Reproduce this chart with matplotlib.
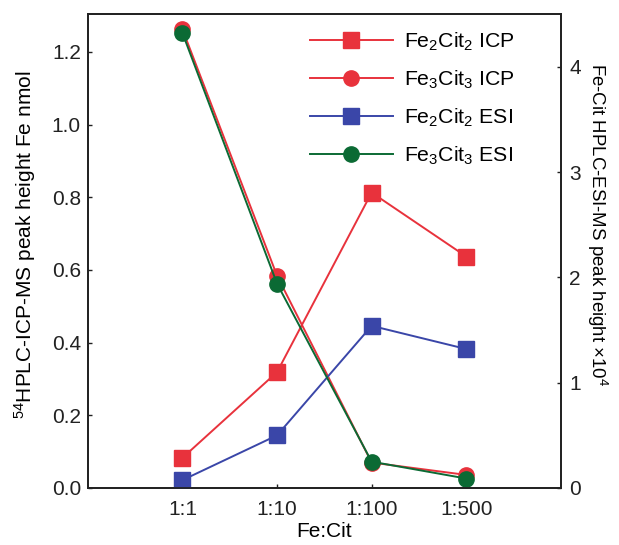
import matplotlib
matplotlib.use("Agg")
import matplotlib.pyplot as plt

plt.rcParams['font.family'] = ['Liberation Sans', 'DejaVu Sans']
plt.rcParams['mathtext.fontset'] = 'custom'
plt.rcParams['mathtext.rm'] = 'Liberation Sans'
plt.rcParams['mathtext.it'] = 'Liberation Sans:italic'
plt.rcParams['mathtext.bf'] = 'Liberation Sans:bold'

categories = ['1:1', '1:10', '1:100', '1:500']
fe2_icp = [0.083, 0.319, 0.813, 0.637]
fe3_icp = [1.262, 0.584, 0.070, 0.036]
fe2_esi = [0.075, 0.50, 1.54, 1.32]
fe3_esi = [4.32, 1.94, 0.25, 0.09]

red = '#e8323c'
blue = '#3a46a8'
green = '#0b6a34'

fig = plt.figure(figsize=(6.19, 5.45), dpi=100)
ax = fig.add_axes([0.142, 0.1046, 0.764, 0.8694])
ax2 = ax.twinx()

x = list(range(len(categories)))
ms = 11
lw = 1.4
l1, = ax.plot(x, fe2_icp, color=red, marker='s', ms=ms, lw=lw, label='Fe$_2$Cit$_2$ ICP')
l2, = ax.plot(x, fe3_icp, color=red, marker='o', ms=ms, lw=lw, label='Fe$_3$Cit$_3$ ICP')
l3, = ax2.plot(x, fe2_esi, color=blue, marker='s', ms=ms, lw=lw, label='Fe$_2$Cit$_2$ ESI')
l4, = ax2.plot(x, fe3_esi, color=green, marker='o', ms=ms, lw=lw, label='Fe$_3$Cit$_3$ ESI')

ax.set_xlim(-1, 4)
ax.set_ylim(0, 1.304)
ax2.set_ylim(0, 4.5)
ax.set_xticks(x)
ax.set_xticklabels(categories)
ax.set_yticks([0.0, 0.2, 0.4, 0.6, 0.8, 1.0, 1.2])
ax.set_yticklabels(['0.0', '0.2', '0.4', '0.6', '0.8', '1.0', '1.2'])
ax2.set_yticks([0, 1, 2, 3, 4])

fs = 15
for a in (ax, ax2):
    a.tick_params(direction='in', length=3, width=1, labelsize=fs, colors='#222222')
    for s in a.spines.values():
        s.set_linewidth(1.3)
        s.set_color('#222222')
ax.tick_params(axis='x', pad=9)
ax.tick_params(axis='y', pad=5)
ax2.tick_params(axis='y', pad=6)

ax.set_xlabel('Fe:Cit', fontsize=fs, labelpad=2)
ax.set_ylabel('$^{54}$HPLC-ICP-MS peak height Fe nmol', fontsize=15, va='center')
ax.yaxis.set_label_coords(-0.133, 0.513)
ax2.set_ylabel('Fe-Cit HPLC-ESI-MS peak height \u00d710$^4$', fontsize=13.4, rotation=270, va='center')
ax2.yaxis.set_label_coords(1.076, 0.555)

leg = ax.legend(handles=[l1, l2, l3, l4], loc='upper left', bbox_to_anchor=(0.469, 0.965),
                frameon=False, fontsize=15.3, handlelength=3.9, numpoints=1,
                labelspacing=0.74, handletextpad=0.55, borderaxespad=0.0, borderpad=0.0)

fig.savefig('out.png', dpi=100)
